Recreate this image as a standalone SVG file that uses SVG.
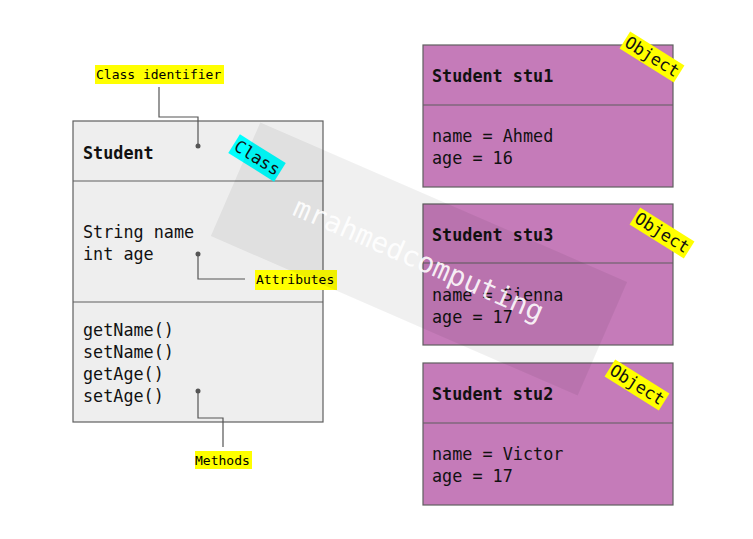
<svg xmlns="http://www.w3.org/2000/svg" width="753" height="539" viewBox="0 0 753 539">
<style>
.box{stroke:#5f5f5f;stroke-width:1.2}
.cls{fill:#eeeeee}
.obj{fill:#c57bb9}
.t{font-family:"DejaVu Sans Mono","Liberation Mono",monospace;font-size:16.8px;fill:#111}
.b{font-weight:bold}
.lbl{font-family:"DejaVu Sans Mono","Liberation Mono",monospace;font-size:13px;fill:#000}
.y{fill:#ffff00}
.c{fill:#00ffff}
.con{fill:none;stroke:#555;stroke-width:1.2}
.dot{fill:#555}
</style>
<rect width="753" height="539" fill="#ffffff"/>
<g id="class-student">
<rect class="box cls" x="73" y="121" width="250" height="301"/>
<line class="box" x1="73" y1="181" x2="323" y2="181"/>
<line class="box" x1="73" y1="302" x2="323" y2="302"/>
<text class="t b" x="83" y="159">Student</text>
<text class="t" x="83" y="238">String name</text>
<text class="t" x="83" y="260">int age</text>
<text class="t" x="83" y="336">getName()</text>
<text class="t" x="83" y="358">setName()</text>
<text class="t" x="83" y="380">getAge()</text>
<text class="t" x="83" y="402">setAge()</text>
</g>
<g id="obj-stu1">
<rect class="box obj" x="423" y="45" width="250" height="142"/>
<line class="box" x1="423" y1="105" x2="673" y2="105"/>
<text class="t b" x="432" y="82">Student stu1</text>
<text class="t" x="432" y="142">name = Ahmed</text>
<text class="t" x="432" y="164">age = 16</text>
</g>
<g id="obj-stu3">
<rect class="box obj" x="423" y="204" width="250" height="141"/>
<line class="box" x1="423" y1="263" x2="673" y2="263"/>
<text class="t b" x="432" y="241">Student stu3</text>
<text class="t" x="432" y="301">name = Sienna</text>
<text class="t" x="432" y="323">age = 17</text>
</g>
<g id="obj-stu2">
<rect class="box obj" x="423" y="363" width="250" height="142"/>
<line class="box" x1="423" y1="423" x2="673" y2="423"/>
<text class="t b" x="432" y="400">Student stu2</text>
<text class="t" x="432" y="460">name = Victor</text>
<text class="t" x="432" y="482">age = 17</text>
</g>
<g id="connectors">
<polyline class="con" points="198,146 198,117 159,117 159,87"/>
<polyline class="con" points="198,254 198,279 245,279"/>
<polyline class="con" points="198,391 198,418 223,418 223,447"/>
<circle class="dot" cx="198" cy="146" r="2.5"/>
<circle class="dot" cx="198" cy="254" r="2.5"/>
<circle class="dot" cx="198" cy="391" r="2.5"/>
</g>
<g id="label-class-identifier">
<rect class="y" x="95" y="65" width="129" height="19"/>
<text class="lbl" x="96" y="79">Class identifier</text>
</g>
<g id="label-attributes">
<rect class="y" x="255" y="270" width="82" height="20"/>
<text class="lbl" x="256" y="284">Attributes</text>
</g>
<g id="label-methods">
<rect class="y" x="195" y="451" width="57" height="18"/>
<text class="lbl" x="195" y="465">Methods</text>
</g>
<g id="label-class" transform="translate(257,158) rotate(32)">
<rect class="c" x="-27" y="-11" width="54" height="22"/>
<text class="t" x="0" y="5.5" text-anchor="middle" font-size="17">Class</text>
</g>
<g id="label-object-1" transform="translate(652,57) rotate(32)">
<rect class="y" x="-32" y="-10" width="64" height="20"/>
<text class="t" x="0" y="5.5" text-anchor="middle">Object</text>
</g>
<g id="label-object-3" transform="translate(662,233) rotate(32)">
<rect class="y" x="-32" y="-10" width="64" height="20"/>
<text class="t" x="0" y="5.5" text-anchor="middle">Object</text>
</g>
<g id="label-object-2" transform="translate(637,385) rotate(32)">
<rect class="y" x="-32" y="-10" width="64" height="20"/>
<text class="t" x="0" y="5.5" text-anchor="middle">Object</text>
</g>
<g id="watermark" transform="translate(419,259) rotate(23.5)">
<rect x="-200" y="-62" width="400" height="124" fill="#000" fill-opacity="0.06"/>
<text x="0" y="10" text-anchor="middle" font-family="DejaVu Sans Mono,monospace" font-size="28" fill="#ffffff" fill-opacity="0.9">mrahmedcomputing</text>
</g>
</svg>
